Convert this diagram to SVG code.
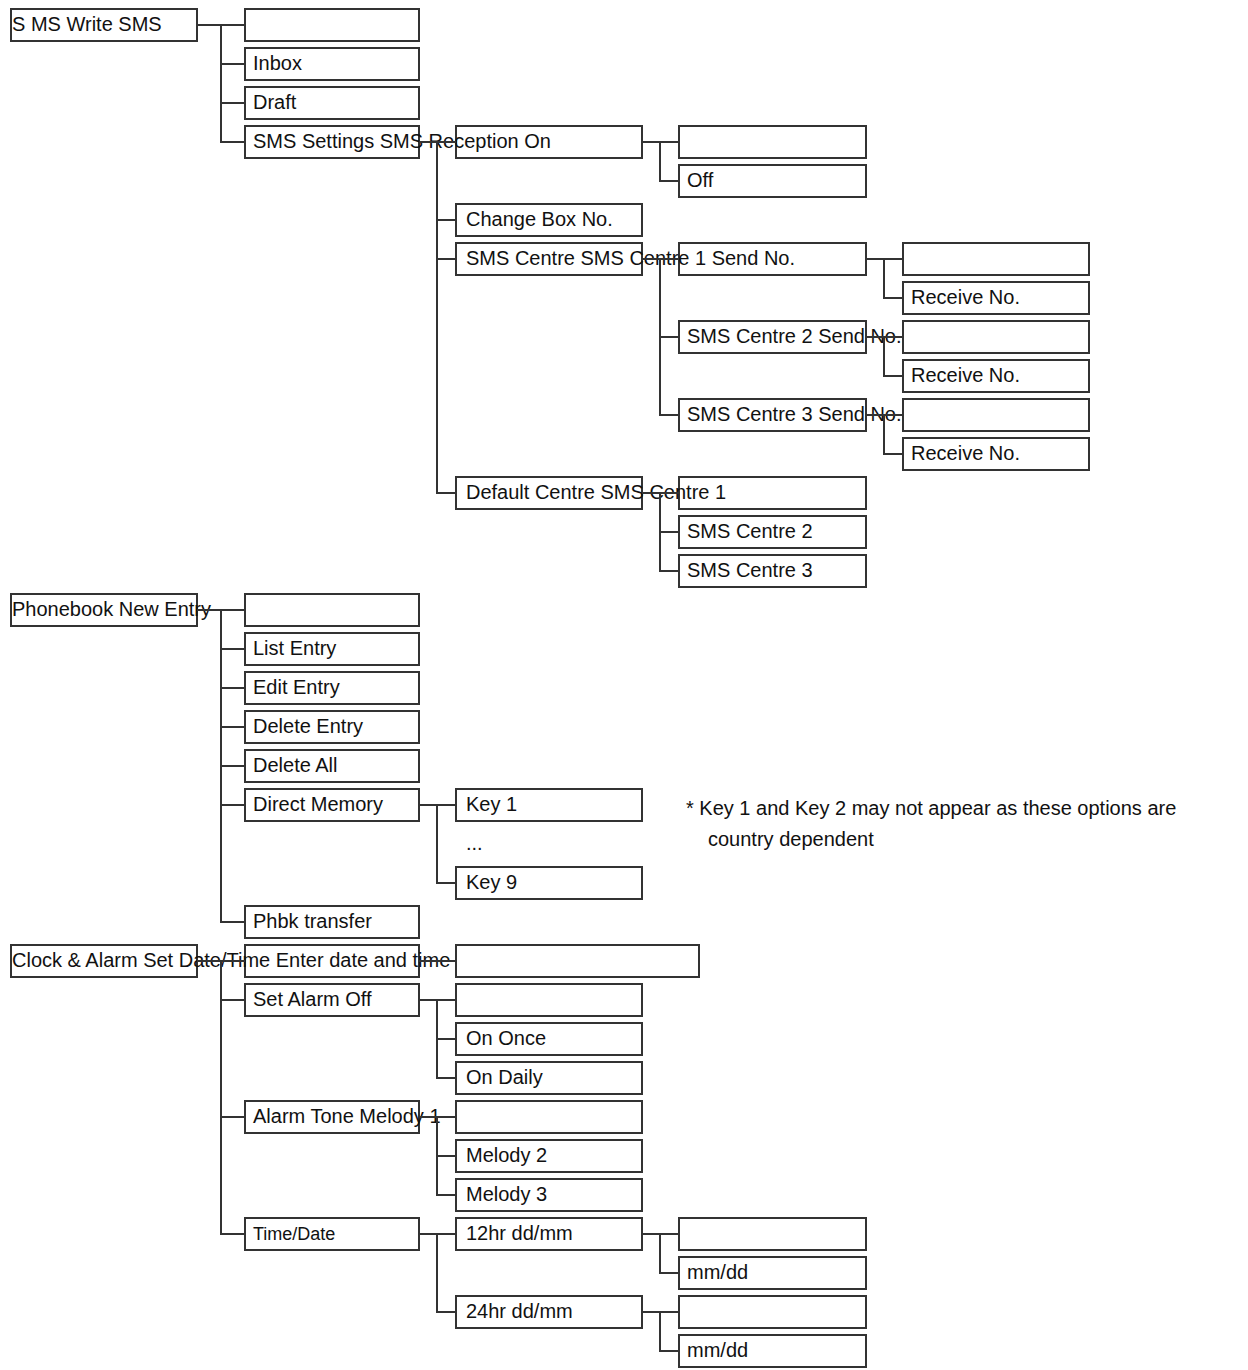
<svg xmlns="http://www.w3.org/2000/svg" width="1248" height="1370" viewBox="0 0 1248 1370">
<style>
rect{fill:#fff;stroke:#333;stroke-width:2}
text{font-family:"Liberation Sans",Arial,sans-serif;font-size:20px;fill:#111}
.c{fill:none;stroke:#333;stroke-width:2}
</style>
<rect width="1248" height="1370" style="stroke:none"/>
<g id="nodes">
<g id="n-sms"><rect x="11" y="9" width="186" height="32"/><text x="12" y="31">S MS Write SMS</text></g>
<g id="n-write"><rect x="245" y="9" width="174" height="32"/></g>
<g id="n-inbox"><rect x="245" y="48" width="174" height="32"/><text x="253" y="70">Inbox</text></g>
<g id="n-draft"><rect x="245" y="87" width="174" height="32"/><text x="253" y="109">Draft</text></g>
<g id="n-settings"><rect x="245" y="126" width="174" height="32"/><rect x="456" y="126" width="186" height="32"/><rect x="679" y="126" width="187" height="32"/><text x="253" y="148">SMS Settings SMS Reception On</text></g>
<g id="n-off"><rect x="679" y="165" width="187" height="32"/><text x="687" y="187">Off</text></g>
<g id="n-changebox"><rect x="456" y="204" width="186" height="32"/><text x="466" y="226">Change Box No.</text></g>
<g id="n-centre"><rect x="456" y="243" width="186" height="32"/><rect x="679" y="243" width="187" height="32"/><rect x="903" y="243" width="186" height="32"/><text x="466" y="265">SMS Centre SMS Centre 1 Send No.</text></g>
<g id="n-recv1"><rect x="903" y="282" width="186" height="32"/><text x="911" y="304">Receive No.</text></g>
<g id="n-centre2"><rect x="679" y="321" width="187" height="32"/><rect x="903" y="321" width="186" height="32"/><text x="687" y="343">SMS Centre 2 Send No.</text></g>
<g id="n-recv2"><rect x="903" y="360" width="186" height="32"/><text x="911" y="382">Receive No.</text></g>
<g id="n-centre3"><rect x="679" y="399" width="187" height="32"/><rect x="903" y="399" width="186" height="32"/><text x="687" y="421">SMS Centre 3 Send No.</text></g>
<g id="n-recv3"><rect x="903" y="438" width="186" height="32"/><text x="911" y="460">Receive No.</text></g>
<g id="n-default"><rect x="456" y="477" width="186" height="32"/><rect x="679" y="477" width="187" height="32"/><text x="466" y="499">Default Centre SMS Centre 1</text></g>
<g id="n-dc2"><rect x="679" y="516" width="187" height="32"/><text x="687" y="538">SMS Centre 2</text></g>
<g id="n-dc3"><rect x="679" y="555" width="187" height="32"/><text x="687" y="577">SMS Centre 3</text></g>
<g id="n-phonebook"><rect x="11" y="594" width="186" height="32"/><rect x="245" y="594" width="174" height="32"/><text x="12" y="616">Phonebook New Entry</text></g>
<g id="n-list"><rect x="245" y="633" width="174" height="32"/><text x="253" y="655">List Entry</text></g>
<g id="n-edit"><rect x="245" y="672" width="174" height="32"/><text x="253" y="694">Edit Entry</text></g>
<g id="n-delete"><rect x="245" y="711" width="174" height="32"/><text x="253" y="733">Delete Entry</text></g>
<g id="n-deleteall"><rect x="245" y="750" width="174" height="32"/><text x="253" y="772">Delete All</text></g>
<g id="n-direct"><rect x="245" y="789" width="174" height="32"/><text x="253" y="811">Direct Memory</text></g>
<g id="n-key1"><rect x="456" y="789" width="186" height="32"/><text x="466" y="811">Key 1</text></g>
<g id="n-dots"><text x="466" y="850">...</text></g>
<g id="n-key9"><rect x="456" y="867" width="186" height="32"/><text x="466" y="889">Key 9</text></g>
<g id="n-phbk"><rect x="245" y="906" width="174" height="32"/><text x="253" y="928">Phbk transfer</text></g>
<g id="n-clock"><rect x="11" y="945" width="186" height="32"/><rect x="245" y="945" width="174" height="32"/><rect x="456" y="945" width="243" height="32"/><text x="12" y="967">Clock &amp; Alarm Set Date/Time Enter date and time</text></g>
<g id="n-setalarm"><rect x="245" y="984" width="174" height="32"/><rect x="456" y="984" width="186" height="32"/><text x="253" y="1006">Set Alarm Off</text></g>
<g id="n-once"><rect x="456" y="1023" width="186" height="32"/><text x="466" y="1045">On Once</text></g>
<g id="n-daily"><rect x="456" y="1062" width="186" height="32"/><text x="466" y="1084">On Daily</text></g>
<g id="n-tone"><rect x="245" y="1101" width="174" height="32"/><rect x="456" y="1101" width="186" height="32"/><text x="253" y="1123">Alarm Tone Melody 1</text></g>
<g id="n-mel2"><rect x="456" y="1140" width="186" height="32"/><text x="466" y="1162">Melody 2</text></g>
<g id="n-mel3"><rect x="456" y="1179" width="186" height="32"/><text x="466" y="1201">Melody 3</text></g>
<g id="n-timedate"><rect x="245" y="1218" width="174" height="32"/><text x="253" y="1240" style="font-size:18px">Time/Date</text></g>
<g id="n-12hr"><rect x="456" y="1218" width="186" height="32"/><rect x="679" y="1218" width="187" height="32"/><text x="466" y="1240">12hr dd/mm</text></g>
<g id="n-12mm"><rect x="679" y="1257" width="187" height="32"/><text x="687" y="1279">mm/dd</text></g>
<g id="n-24hr"><rect x="456" y="1296" width="186" height="32"/><rect x="679" y="1296" width="187" height="32"/><text x="466" y="1318">24hr dd/mm</text></g>
<g id="n-24mm"><rect x="679" y="1335" width="187" height="32"/><text x="687" y="1357">mm/dd</text></g>
<g id="note"><text x="686" y="815">* Key 1 and Key 2 may not appear as these options are</text><text x="708" y="846">country dependent</text></g>
</g>
<g id="connectors" class="c">
<path class="c" d="M197 25H245M221 25V142H245M221 64H245M221 103H245
M419 142H456M437 142V493H456M437 220H456M437 259H456
M642 142H679M660 142V181H679
M642 259H679M660 259V415H679M660 337H679
M866 259H903M884 259V298H903M866 337H903M884 337V376H903M866 415H903M884 415V454H903
M642 493H679M660 493V571H679M660 532H679
M197 610H245M221 610V922H245M221 649H245M221 688H245M221 727H245M221 766H245M221 805H245
M419 805H456M437 805V883H456
M197 961H245M221 961V1234H245M221 1000H245M221 1117H245
M419 961H456
M419 1000H456M437 1000V1078H456M437 1039H456
M419 1117H456M437 1117V1195H456M437 1156H456
M419 1234H456M437 1234V1312H456
M642 1234H679M660 1234V1273H679M642 1312H679M660 1312V1351H679"/>
</g>
</svg>
